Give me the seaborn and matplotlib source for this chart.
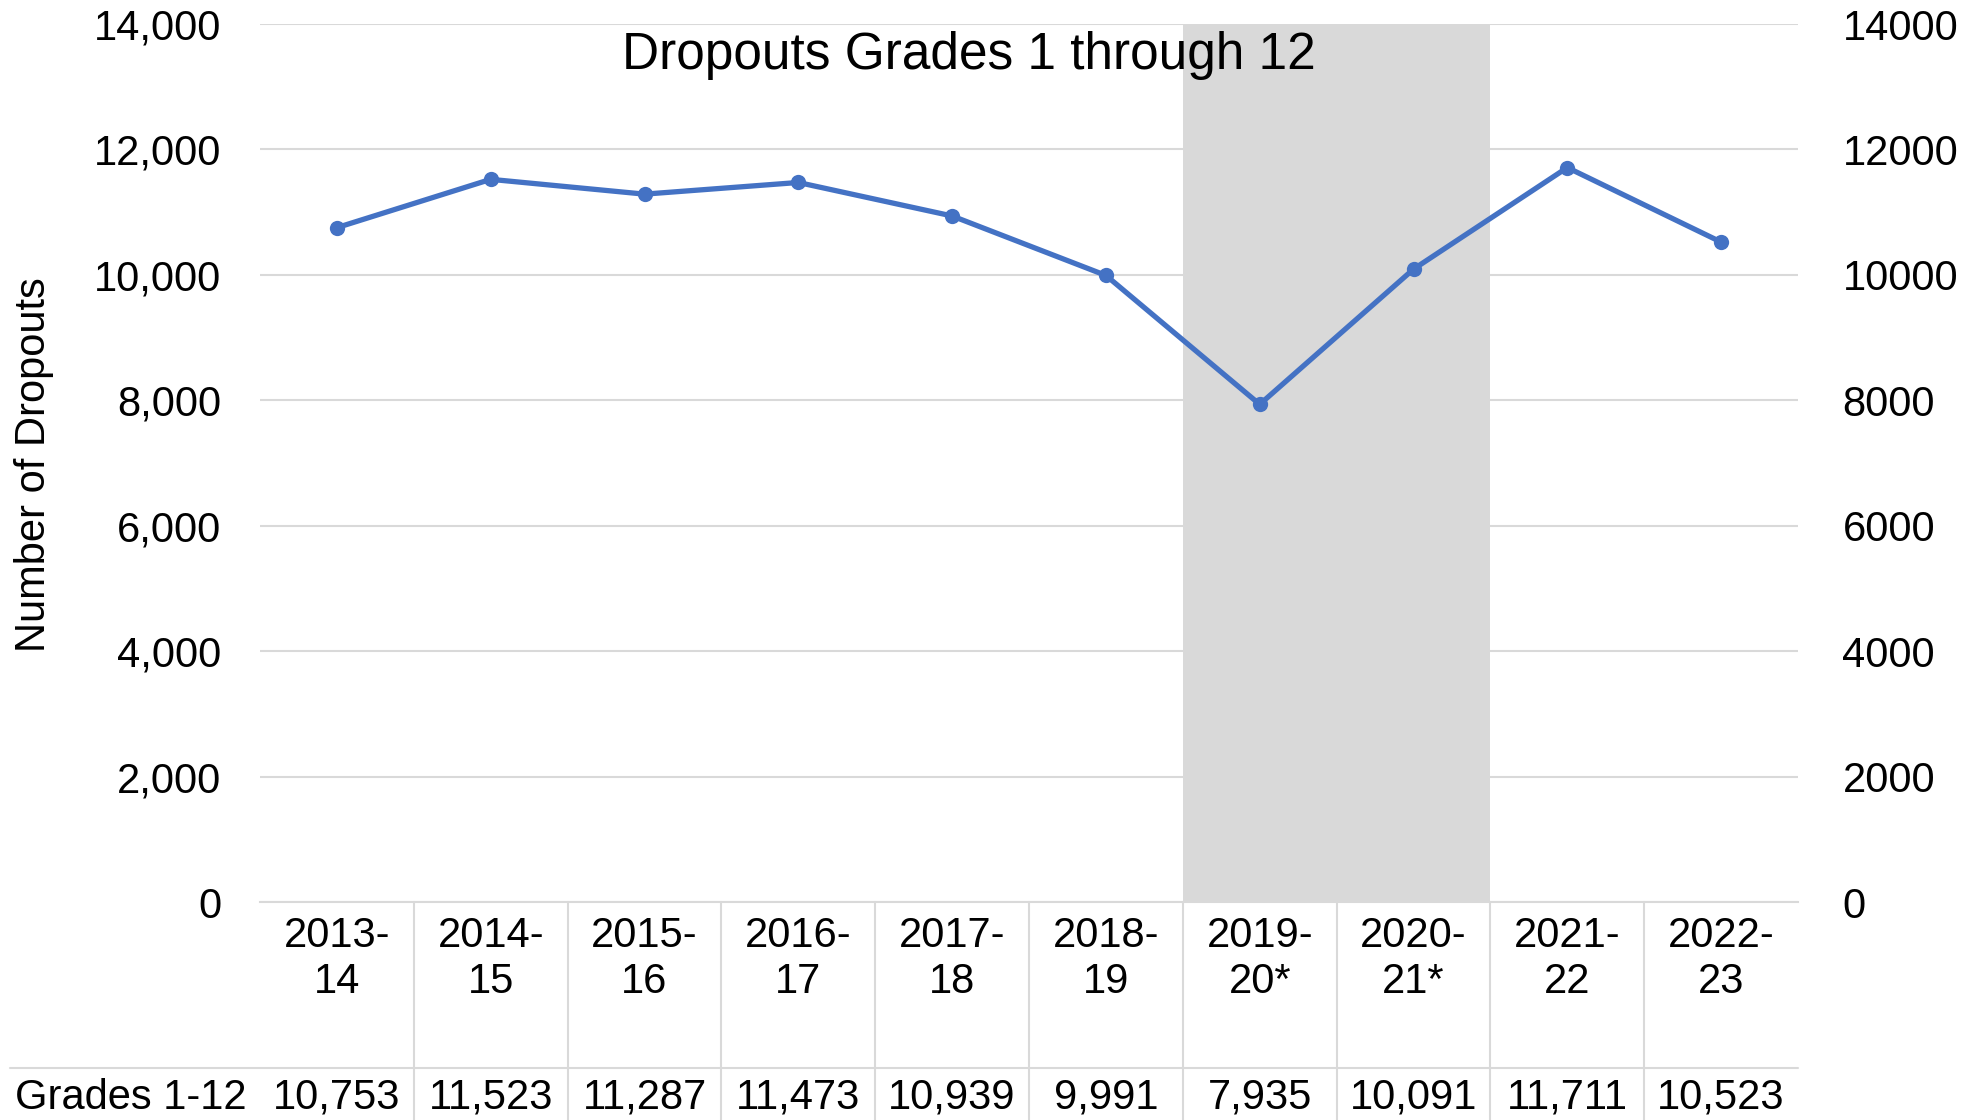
import matplotlib
matplotlib.use("Agg")
import matplotlib.pyplot as plt
import seaborn as sns
import pandas as pd
from matplotlib.transforms import blended_transform_factory
from matplotlib.lines import Line2D
from matplotlib.ticker import FuncFormatter

# ---- data ----
years = ["2013-14", "2014-15", "2015-16", "2016-17", "2017-18",
         "2018-19", "2019-20*", "2020-21*", "2021-22", "2022-23"]
tick_labels = ["2013-\n14", "2014-\n15", "2015-\n16", "2016-\n17", "2017-\n18",
               "2018-\n19", "2019-\n20*", "2020-\n21*", "2021-\n22", "2022-\n23"]
dropouts = [10753, 11523, 11287, 11473, 10939, 9991, 7935, 10091, 11711, 10523]
shaded_years = ["2019-20*", "2020-21*"]
y_ticks = [0, 2000, 4000, 6000, 8000, 10000, 12000, 14000]
row_label = "Grades 1-12"
title = "Dropouts Grades 1 through 12"
y_label = "Number of Dropouts"

sns.set_style("white")
plt.rcParams["font.family"] = ["Liberation Sans", "DejaVu Sans"]
plt.rcParams["text.color"] = "black"
plt.rcParams["xtick.color"] = "black"
plt.rcParams["ytick.color"] = "black"
plt.rcParams["axes.labelcolor"] = "black"

W, H = 1972, 1120
fig = plt.figure(figsize=(W / 100, H / 100), dpi=100)
ax_left, ax_right, ax_top, ax_bottom = 260, 1798, 24, 902
ax = fig.add_axes([ax_left / W, (H - ax_bottom) / H,
                   (ax_right - ax_left) / W, (ax_bottom - ax_top) / H])

grid_color = "#D9D9D9"
line_color = "#4472C4"
fs = 30

df = pd.DataFrame({"year": years, "dropouts": dropouts})
sns.lineplot(data=df, x="year", y="dropouts", sort=False, marker="o",
             color=line_color, linewidth=3.8, markersize=11,
             markeredgewidth=0, ax=ax, zorder=5)

ax.set_xlim(-0.5, len(years) - 0.5)
ax.set_ylim(y_ticks[0], y_ticks[-1])
ax.set_yticks(y_ticks)
ax.yaxis.set_major_formatter(FuncFormatter(lambda v, p: f"{int(v):,}"))
ax.set_xticks(range(len(years)))
ax.set_xticklabels(tick_labels)
ax.set_xlabel("")
ax.set_ylabel("")
ax.yaxis.grid(True, color=grid_color, linewidth=1.5)
ax.set_axisbelow(True)
for s in ["top", "left", "right"]:
    ax.spines[s].set_visible(False)
ax.spines["bottom"].set_color(grid_color)
ax.spines["bottom"].set_linewidth(1.5)
ax.tick_params(axis="y", labelsize=fs, length=0, pad=28, labelcolor="black")
ax.tick_params(axis="x", labelsize=fs, length=0, pad=10, labelcolor="black")

# shaded band
idx = [years.index(s) for s in shaded_years]
ax.axvspan(min(idx) - 0.5, max(idx) + 0.5, color=grid_color, zorder=1, lw=0)

# secondary axis
ax2 = ax.twinx()
ax2.set_ylim(y_ticks[0], y_ticks[-1])
ax2.set_yticks(y_ticks)
ax2.set_yticklabels([str(v) for v in y_ticks])
ax2.tick_params(axis="y", labelsize=fs, length=0, pad=32, labelcolor="black")
for s in ax2.spines.values():
    s.set_visible(False)
ax2.grid(False)

# data table below
tr = blended_transform_factory(ax.transData, ax.transAxes)
ax_h = ax_bottom - ax_top
y_end = -(H - ax_bottom) / ax_h
for i in range(1, len(years)):
    ax.plot([i - 0.5, i - 0.5], [0, y_end], transform=tr, color=grid_color,
            lw=1.5, clip_on=False, zorder=0)
fig.add_artist(Line2D([10 / W, ax_right / W], [(H - 1068) / H] * 2,
                      color=grid_color, lw=1.5))
val_y = -(1098 - ax_bottom) / ax_h
for i, v in enumerate(dropouts):
    ax.text(i, val_y, f"{v:,}", transform=tr, ha="center", va="center",
            fontsize=fs, clip_on=False, color="black")
fig.text(15 / W, 1 - 1098 / H, row_label, ha="left", va="center",
         fontsize=fs, color="black")

fig.text(969 / W, 1 - 55 / H, title, ha="center", va="center", fontsize=37,
         color="black")
fig.text(34 / W, 1 - 465 / H, y_label, rotation=90, ha="center", va="center",
         fontsize=fs, color="black")

fig.savefig("out.png", dpi=100)
